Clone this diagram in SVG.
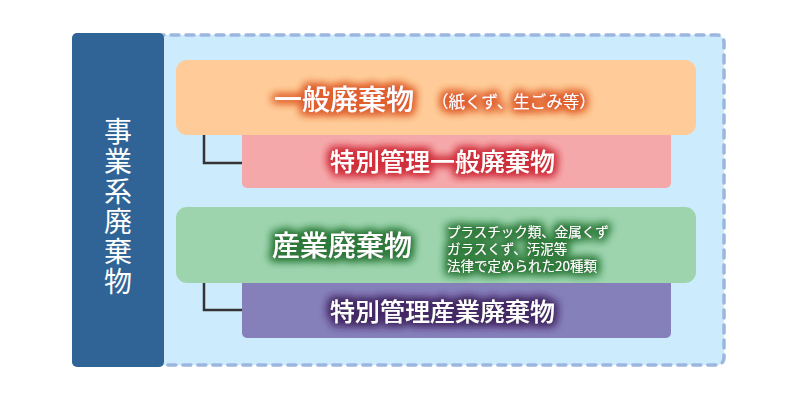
<svg xmlns="http://www.w3.org/2000/svg" width="800" height="400" viewBox="0 0 800 400">
  <style>
    text { font-family: "Noto Sans CJK JP", "Noto Sans", sans-serif; fill: #ffffff; }
    .big { font-size: 28px; font-weight: 500; }
    .mid { font-size: 25px; font-weight: 500; }
    .small { font-size: 16.5px; }
    .tiny { font-size: 13.5px; }
    .side { font-size: 28px; font-weight: 400; letter-spacing: 2px; }
    .conn { fill: none; stroke: #333333; stroke-width: 2.5; }
  </style>
  <defs>
    <filter id="glowOrange" x="-20%" y="-50%" width="140%" height="200%">
      <feMorphology in="SourceAlpha" operator="dilate" radius="2" result="d"/>
      <feGaussianBlur in="d" stdDeviation="4.5" result="b"/>
      <feFlood flood-color="#E0602E" flood-opacity="1"/>
      <feComposite in2="b" operator="in" result="g"/>
      <feMerge><feMergeNode in="g"/><feMergeNode in="g"/><feMergeNode in="SourceGraphic"/></feMerge>
    </filter>
    <filter id="glowRed" x="-20%" y="-50%" width="140%" height="200%">
      <feMorphology in="SourceAlpha" operator="dilate" radius="2" result="d"/>
      <feGaussianBlur in="d" stdDeviation="4.5" result="b"/>
      <feFlood flood-color="#D0303C" flood-opacity="1"/>
      <feComposite in2="b" operator="in" result="g"/>
      <feMerge><feMergeNode in="g"/><feMergeNode in="g"/><feMergeNode in="SourceGraphic"/></feMerge>
    </filter>
    <filter id="glowGreen" x="-20%" y="-50%" width="140%" height="200%">
      <feMorphology in="SourceAlpha" operator="dilate" radius="2" result="d"/>
      <feGaussianBlur in="d" stdDeviation="4.5" result="b"/>
      <feFlood flood-color="#2E7A3A" flood-opacity="1"/>
      <feComposite in2="b" operator="in" result="g"/>
      <feMerge><feMergeNode in="g"/><feMergeNode in="g"/><feMergeNode in="SourceGraphic"/></feMerge>
    </filter>
    <filter id="glowPurple" x="-20%" y="-50%" width="140%" height="200%">
      <feMorphology in="SourceAlpha" operator="dilate" radius="2" result="d"/>
      <feGaussianBlur in="d" stdDeviation="4.5" result="b"/>
      <feFlood flood-color="#452A66" flood-opacity="1"/>
      <feComposite in2="b" operator="in" result="g"/>
      <feMerge><feMergeNode in="g"/><feMergeNode in="g"/><feMergeNode in="SourceGraphic"/></feMerge>
    </filter>
  </defs>

  <g id="container">
    <rect x="74" y="35" width="650" height="330" rx="7" fill="#CCEBFD" stroke="#9BB7E0" stroke-width="3.5" stroke-dasharray="8 7" stroke-linecap="round"/>
  </g>

  <g id="side-label">
    <rect x="72" y="33" width="92" height="334" rx="5" fill="#306496"/>
    <text class="side" x="118" y="117" writing-mode="vertical-rl">事業系廃棄物</text>
  </g>

  <g id="connectors">
    <path class="conn" d="M204 134 V163 H243"/>
    <path class="conn" d="M204 282 V310 H243"/>
  </g>

  <g id="special-general">
    <rect x="242" y="120" width="429" height="68" rx="5" fill="#F5A8AA"/>
    <text class="mid" x="330" y="171" filter="url(#glowRed)">特別管理一般廃棄物</text>
  </g>

  <g id="general">
    <rect x="176" y="60" width="520" height="75" rx="11" fill="#FFCC99"/>
    <text class="big" x="274" y="110" filter="url(#glowOrange)">一般廃棄物</text>
    <text class="small" x="432" y="108" filter="url(#glowOrange)">（紙くず、生ごみ等）</text>
  </g>

  <g id="special-industrial">
    <rect x="242" y="270" width="429" height="68" rx="5" fill="#8680BA"/>
    <text class="mid" x="330" y="321" filter="url(#glowPurple)">特別管理産業廃棄物</text>
  </g>

  <g id="industrial">
    <rect x="176" y="207" width="520" height="76" rx="11" fill="#9DD4AE"/>
    <text class="big" x="272" y="256" filter="url(#glowGreen)">産業廃棄物</text>
    <text class="tiny" filter="url(#glowGreen)"><tspan x="447" y="237">プラスチック類、金属くず</tspan><tspan x="447" y="254">ガラスくず、汚泥等</tspan><tspan x="447" y="271">法律で定められた20種類</tspan></text>
  </g>
</svg>
